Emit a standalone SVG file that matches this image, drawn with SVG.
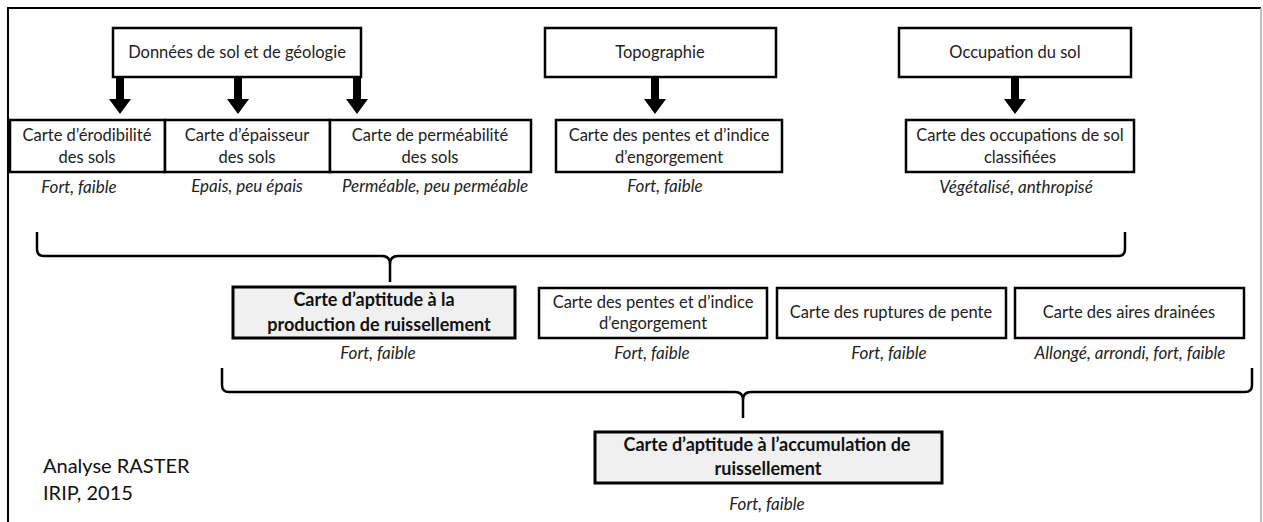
<svg xmlns="http://www.w3.org/2000/svg" width="1263" height="522" viewBox="0 0 1263 522">
<style>
.box{fill:#fff;stroke:#000;stroke-width:2.5}
.hbox{fill:#f0f0f0;stroke:#000;stroke-width:3}
.t{font-family:Lato,"Open Sans",sans-serif;font-size:16.5px;fill:#222;text-anchor:middle}
.b{font-family:Lato,"Open Sans",sans-serif;font-size:18px;font-weight:bold;fill:#111;text-anchor:middle}
.i{font-family:Lato,"Open Sans",sans-serif;font-size:17px;font-style:italic;fill:#222;text-anchor:middle}
.n{font-family:Lato,"Open Sans",sans-serif;font-size:20px;fill:#111}
.brace{fill:none;stroke:#000;stroke-width:2.5}
.arr{fill:#000}
</style>
<rect x="0" y="0" width="1263" height="522" fill="#fff"/>
<path d="M8,522 L8,8 L1261,8" fill="none" stroke="#000" stroke-width="2"/>
<path d="M1261,8 L1261,522" stroke="#aaa" stroke-width="1.5"/>

<g id="n-sol"><rect class="box" x="113" y="28" width="248" height="49"/><text class="t" x="237" y="58">Données de sol et de géologie</text></g>
<g id="n-topo"><rect class="box" x="545" y="28" width="231" height="49"/><text class="t" x="660" y="58">Topographie</text></g>
<g id="n-occ"><rect class="box" x="899" y="28" width="232" height="49"/><text class="t" x="1015" y="58">Occupation du sol</text></g>

<g id="n-erod"><rect class="box" x="10" y="120" width="155" height="52"/><text class="t" x="87" y="141">Carte d’érodibilité</text><text class="t" x="87" y="163">des sols</text><text class="i" x="79" y="193">Fort, faible</text></g>
<g id="n-epai"><rect class="box" x="165" y="120" width="165" height="52"/><text class="t" x="247" y="141">Carte d’épaisseur</text><text class="t" x="247" y="163">des sols</text><text class="i" x="247" y="192">Epais, peu épais</text></g>
<g id="n-perm"><rect class="box" x="330" y="120" width="201" height="52"/><text class="t" x="430" y="141">Carte de perméabilité</text><text class="t" x="430" y="163">des sols</text><text class="i" x="435" y="192">Perméable, peu perméable</text></g>
<g id="n-pentes1"><rect class="box" x="556" y="120" width="226" height="52"/><text class="t" x="669" y="141">Carte des pentes et d’indice</text><text class="t" x="669" y="163">d’engorgement</text><text class="i" x="665" y="192">Fort, faible</text></g>
<g id="n-occcl"><rect class="box" x="906" y="120" width="228" height="52"/><text class="t" x="1020" y="141">Carte des occupations de sol</text><text class="t" x="1020" y="163">classifiées</text><text class="i" x="1016" y="193">Végétalisé, anthropisé</text></g>

<g id="n-prod"><rect class="hbox" x="233" y="287" width="282" height="51"/><text class="b" x="374" y="306">Carte d’aptitude à la</text><text class="b" x="379" y="331">production de ruissellement</text><text class="i" x="378" y="359">Fort, faible</text></g>
<g id="n-pentes2"><rect class="box" x="539" y="288" width="228" height="50"/><text class="t" x="653" y="308">Carte des pentes et d’indice</text><text class="t" x="653" y="329">d’engorgement</text><text class="i" x="652" y="359">Fort, faible</text></g>
<g id="n-rupt"><rect class="box" x="777" y="288" width="229" height="50"/><text class="t" x="891" y="318">Carte des ruptures de pente</text><text class="i" x="889" y="359">Fort, faible</text></g>
<g id="n-aires"><rect class="box" x="1015" y="288" width="229" height="50"/><text class="t" x="1129" y="318">Carte des aires drainées</text><text class="i" x="1130" y="359">Allongé, arrondi, fort, faible</text></g>

<g id="n-accu"><rect class="hbox" x="595" y="432" width="347" height="51"/><text class="b" x="767" y="451">Carte d’aptitude à l’accumulation de</text><text class="b" x="768" y="475">ruissellement</text><text class="i" x="767" y="510">Fort, faible</text></g>

<g id="n-note"><text class="n" x="43" y="473">Analyse RASTER</text><text class="n" x="43" y="500">IRIP, 2015</text></g>

<g id="connectors">
<path class="arr" d="M116,77 h8 v22 h7 l-11,15 l-11,-15 h7 z"/>
<path class="arr" d="M234,77 h8 v22 h7 l-11,15 l-11,-15 h7 z"/>
<path class="arr" d="M353,77 h8 v22 h7 l-11,15 l-11,-15 h7 z"/>
<path class="arr" d="M651,77 h8 v22 h7 l-11,15 l-11,-15 h7 z"/>
<path class="arr" d="M1011,77 h8 v22 h7 l-11,15 l-11,-15 h7 z"/>
<path class="brace" d="M37,232 L37,249 Q37,256 44,256 L382,256 Q390,256 390,264 L390,282 M390,264 Q390,256 398,256 L1118,256 Q1125,256 1125,249 L1125,232"/>
<path class="brace" d="M222,368 L222,385 Q222,392 229,392 L735,392 Q743,392 743,400 L743,418 M743,400 Q743,392 751,392 L1245,392 Q1252,392 1252,385 L1252,368"/>
</g>
</svg>
